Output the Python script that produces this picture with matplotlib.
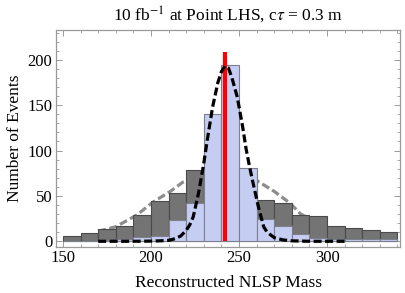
import matplotlib
matplotlib.use("Agg")
import matplotlib.pyplot as plt
from matplotlib.ticker import MultipleLocator

# histogram bins (left edges, width 10)
bin_edges = [150, 160, 170, 180, 190, 200, 210, 220, 230, 240,
             250, 260, 270, 280, 290, 300, 310, 320, 330, 340]
# total (dark gray) and signal (light blue) counts per bin
total_counts = [6, 9, 14, 17, 29, 44, 53, 79, 100, 105,
                70, 46, 42, 28.5, 28, 16.6, 15, 12, 10]
signal_counts = [0, 0, 1, 2, 5, 6, 23, 42, 140, 194,
                 81, 25, 16.6, 7.7, 3.7, 3, 2.5, 2.5, 2.5]

# black dashed fit
fit_x = [170, 180, 190, 200, 205, 210, 214, 217, 220, 222, 224, 227, 230,
         232, 235, 238, 240, 242, 244, 246, 249, 252, 254, 256, 258, 261,
         264, 266, 270, 275, 280, 290, 300, 310]
fit_y = [0, 0, 0, 0.2, 0.5, 1, 3, 6, 12, 18, 27, 53, 86,
         112, 148, 175, 187, 193, 191, 180, 159, 127, 102, 82, 64, 38,
         16, 10, 4, 1.5, 0.5, 0, 0, 0]

# gray dashed broad fit (hidden behind the bars in the middle)
broad_x = [170, 180, 192, 201, 211, 218, 226, 235, 242, 250, 260, 270, 279, 285, 290]
broad_y = [11, 16, 29, 43, 55, 65, 71, 78, 80, 76, 67, 55, 42, 30, 25]

# nominal NLSP mass
true_mass = 242
true_height = 209

plt.rcParams.update({
    "font.family": ["Liberation Serif", "DejaVu Serif"],
    "mathtext.fontset": "stix",
    "font.size": 12,
    "axes.edgecolor": "#9a9a9a",
    "axes.linewidth": 0.9,
    "xtick.color": "#9a9a9a",
    "ytick.color": "#9a9a9a",
    "xtick.labelcolor": "black",
    "ytick.labelcolor": "black",
})

fig = plt.figure(figsize=(4.05, 2.93), dpi=100)
ax = fig.add_axes([0.138, 0.157, 0.850, 0.741])

width = 10
lefts = bin_edges[:-1]
dash = (0, (2.5, 1.1))
ax.plot(broad_x, broad_y, ls=dash, color="#8c8c8c", lw=2.3, zorder=1)
ax.bar(lefts, total_counts, width=width, align="edge", color="#747474",
       edgecolor="#4a4a4a", linewidth=0.8, zorder=2)
ax.bar(lefts, signal_counts, width=width, align="edge", color="#c6cdf2",
       edgecolor="#7c7f8c", linewidth=0.8, zorder=3)
ax.plot([true_mass, true_mass], [0, true_height], color="#ff0000", lw=3.0,
        solid_capstyle="butt", zorder=4)
ax.plot(fit_x, fit_y, ls=dash, color="black", lw=2.3, zorder=5)

ax.set_xlim(146, 341.5)
ax.set_ylim(-6.3, 233)
ax.xaxis.set_major_locator(MultipleLocator(50))
ax.xaxis.set_minor_locator(MultipleLocator(10))
ax.yaxis.set_major_locator(MultipleLocator(50))
ax.yaxis.set_minor_locator(MultipleLocator(10))
ax.tick_params(which="both", direction="in", top=True, right=True)
ax.tick_params(which="major", length=4.5, width=0.7, labelsize=12, pad=2.5)
ax.tick_params(which="minor", length=2.5, width=0.6)

ax.set_xlabel("Reconstructed NLSP Mass", fontsize=12.5, labelpad=6)
ax.set_ylabel("Number of Events", fontsize=12.5, labelpad=3)
ax.set_title(r"10 fb$^{-1}$ at Point LHS, c$\tau$ = 0.3 m", fontsize=12.5, pad=7)

fig.savefig("out.png", dpi=100)
